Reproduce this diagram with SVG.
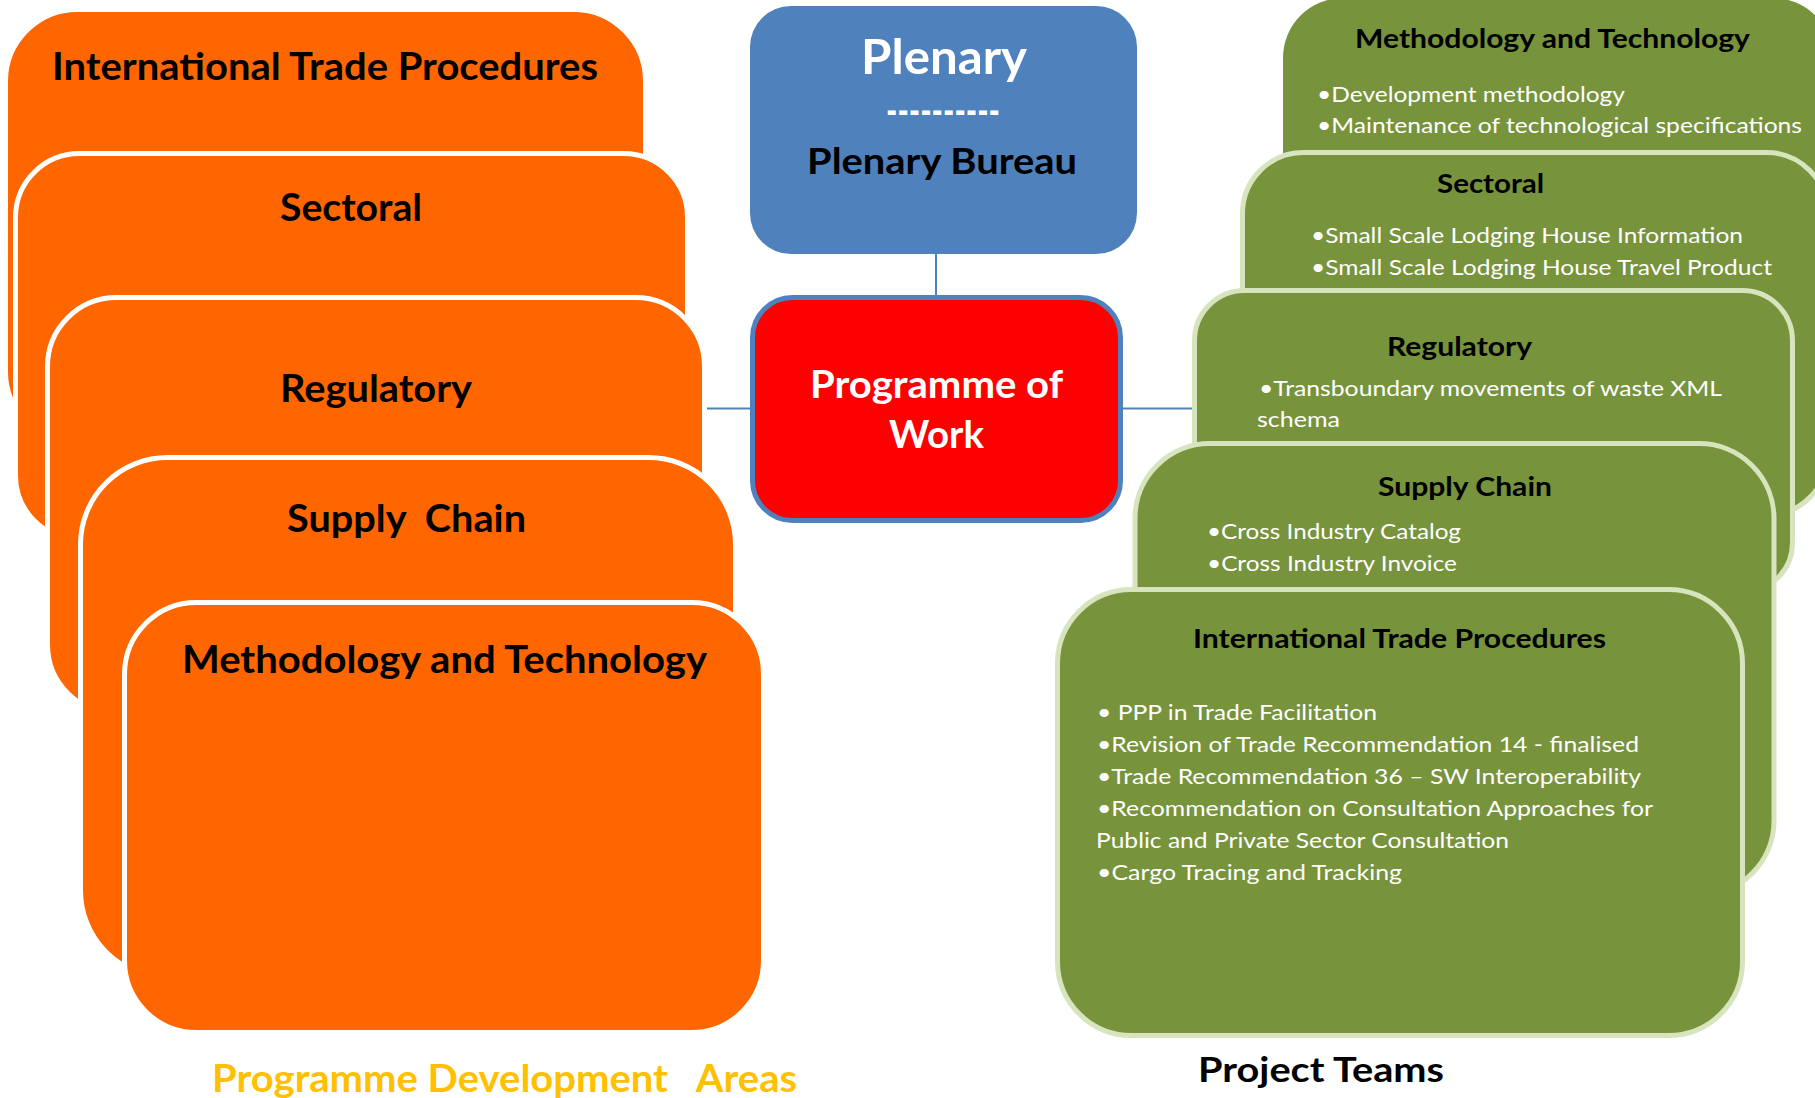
<svg xmlns="http://www.w3.org/2000/svg" width="1815" height="1098" viewBox="0 0 1815 1098">
<style>
text { font-family: Lato, "Open Sans", "Liberation Sans", sans-serif; }
.b { font-weight: 700; }
.ot { font-size: 38px; fill: #000; }
.gt { font-size: 26px; fill: #000; }
.bl { font-size: 20.5px; fill: #fff; }
.pre { white-space: pre; }
.or { fill: #FF6600; stroke: #FFFFFF; stroke-width: 5; }
.gr { fill: #77933C; stroke: #D7E4BD; stroke-width: 5; }
.cn { stroke: #4F81BD; stroke-width: 2; fill: none; }
</style>
<rect width="1815" height="1098" fill="#FFFFFF"/>

<g id="connectors">
  <line class="cn" x1="936" y1="254" x2="936" y2="296"/>
  <line class="cn" x1="706" y1="408.5" x2="752" y2="408.5"/>
  <line class="cn" x1="1122" y1="408.5" x2="1193" y2="408.5"/>
</g>

<g id="pda-itp">
  <rect class="or" x="5.5" y="9.5" width="640" height="434" rx="72"/>
  <text class="b ot" x="52" y="80" textLength="546" lengthAdjust="spacingAndGlyphs">International Trade Procedures</text>
</g>
<g id="pda-sectoral">
  <rect class="or" x="15.5" y="153.5" width="672" height="386" rx="64"/>
  <text class="b ot" x="280" y="221" textLength="142" lengthAdjust="spacingAndGlyphs">Sectoral</text>
</g>
<g id="pda-regulatory">
  <rect class="or" x="47.5" y="297.5" width="657" height="416" rx="69"/>
  <text class="b ot" x="280" y="402" textLength="192" lengthAdjust="spacingAndGlyphs">Regulatory</text>
</g>
<g id="pda-supply">
  <rect class="or" x="80.5" y="457.5" width="655" height="520" rx="87"/>
  <text class="b ot pre" xml:space="preserve" x="287" y="532" textLength="239" lengthAdjust="spacingAndGlyphs">Supply  Chain</text>
</g>
<g id="pda-methodology">
  <rect class="or" x="124.5" y="602.5" width="639" height="430" rx="72"/>
  <text class="b ot" x="182" y="673" textLength="525" lengthAdjust="spacingAndGlyphs">Methodology and Technology</text>
</g>
<g id="label-pda">
  <text class="b pre" xml:space="preserve" x="212" y="1092" font-size="38" fill="#FFC000" textLength="585" lengthAdjust="spacingAndGlyphs">Programme Development   Areas</text>
</g>

<g id="plenary">
  <rect x="750" y="6" width="387" height="248" rx="41" fill="#4F81BD"/>
  <text class="b" x="861" y="74" font-size="48" fill="#FFFFFF" textLength="166" lengthAdjust="spacingAndGlyphs">Plenary</text>
  <text class="b" x="886" y="126" font-size="44" fill="#FFFFFF" textLength="114" lengthAdjust="spacingAndGlyphs">----------</text>
  <text class="b" x="807" y="174" font-size="36" fill="#000000" textLength="270" lengthAdjust="spacingAndGlyphs">Plenary Bureau</text>
</g>

<g id="programme-of-work">
  <rect x="752.5" y="297.5" width="368" height="223" rx="40" fill="#FF0000" stroke="#4F81BD" stroke-width="5"/>
  <text class="b" x="810" y="398" font-size="38" fill="#FFFFFF" textLength="253" lengthAdjust="spacingAndGlyphs">Programme of</text>
  <text class="b" x="889" y="448" font-size="38" fill="#FFFFFF" textLength="95" lengthAdjust="spacingAndGlyphs">Work</text>
</g>

<g id="pt-methodology">
  <rect x="1283" y="-2" width="550" height="480" rx="60" fill="#77933C"/>
  <text class="b gt" x="1355" y="48" textLength="395" lengthAdjust="spacingAndGlyphs">Methodology and Technology</text>
  <text class="bl" x="1317" y="102" textLength="308" lengthAdjust="spacingAndGlyphs">•Development methodology</text>
  <text class="bl" x="1317" y="133" textLength="485" lengthAdjust="spacingAndGlyphs">•Maintenance of technological specifications</text>
</g>
<g id="pt-sectoral">
  <rect class="gr" x="1242.5" y="152.5" width="585" height="363" rx="61"/>
  <text class="b gt" x="1437" y="193" textLength="107" lengthAdjust="spacingAndGlyphs">Sectoral</text>
  <text class="bl" x="1311" y="243" textLength="432" lengthAdjust="spacingAndGlyphs">•Small Scale Lodging House Information</text>
  <text class="bl" x="1311" y="275" textLength="461" lengthAdjust="spacingAndGlyphs">•Small Scale Lodging House Travel Product</text>
</g>
<g id="pt-regulatory">
  <rect class="gr" x="1194.5" y="290.5" width="598" height="302" rx="50"/>
  <text class="b gt" x="1387" y="356" textLength="145" lengthAdjust="spacingAndGlyphs">Regulatory</text>
  <text class="bl" x="1259" y="396" textLength="463" lengthAdjust="spacingAndGlyphs">•Transboundary movements of waste XML</text>
  <text class="bl" x="1257" y="427" textLength="83" lengthAdjust="spacingAndGlyphs">schema</text>
</g>
<g id="pt-supply">
  <rect class="gr" x="1135" y="443.5" width="639" height="452" rx="75"/>
  <text class="b gt" x="1378" y="496" textLength="174" lengthAdjust="spacingAndGlyphs">Supply Chain</text>
  <text class="bl" x="1207" y="539" textLength="254" lengthAdjust="spacingAndGlyphs">•Cross Industry Catalog</text>
  <text class="bl" x="1207" y="571" textLength="250" lengthAdjust="spacingAndGlyphs">•Cross Industry Invoice</text>
</g>
<g id="pt-itp">
  <rect class="gr" x="1057.5" y="589.5" width="685" height="446" rx="74"/>
  <text class="b gt" x="1193" y="648" textLength="413" lengthAdjust="spacingAndGlyphs">International Trade Procedures</text>
  <text class="bl" x="1097" y="720" textLength="280" lengthAdjust="spacingAndGlyphs">• PPP in Trade Facilitation</text>
  <text class="bl" x="1097" y="752" textLength="542" lengthAdjust="spacingAndGlyphs">•Revision of Trade Recommendation 14 - finalised</text>
  <text class="bl" x="1097" y="784" textLength="544" lengthAdjust="spacingAndGlyphs">•Trade Recommendation 36 – SW Interoperability</text>
  <text class="bl" x="1097" y="816" textLength="556" lengthAdjust="spacingAndGlyphs">•Recommendation on Consultation Approaches for</text>
  <text class="bl" x="1096" y="848" textLength="413" lengthAdjust="spacingAndGlyphs">Public and Private Sector Consultation</text>
  <text class="bl" x="1097" y="880" textLength="305" lengthAdjust="spacingAndGlyphs">•Cargo Tracing and Tracking</text>
</g>
<g id="label-pt">
  <text class="b" x="1198" y="1082" font-size="35" fill="#000000" textLength="246" lengthAdjust="spacingAndGlyphs">Project Teams</text>
</g>
</svg>
